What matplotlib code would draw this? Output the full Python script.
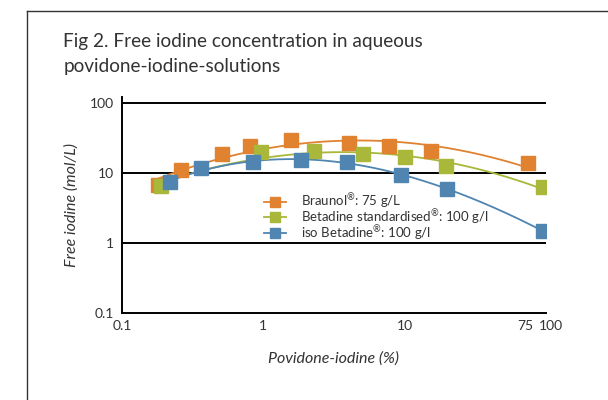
import numpy as np
import matplotlib
matplotlib.use('Agg')
import matplotlib.pyplot as plt
import matplotlib.transforms as mtransforms
from matplotlib.lines import Line2D

plt.rcParams['font.family'] = ['Lato', 'DejaVu Sans']
plt.rcParams['mathtext.fontset'] = 'custom'
plt.rcParams['mathtext.rm'] = 'Lato'

# Braunol: 75 g/L
braunol_x = [0.18, 0.26, 0.51, 0.80, 1.57, 4.06, 7.8, 15.4, 75]
braunol_y = [6.7, 11.0, 18.5, 24.3, 29.6, 27.1, 24.3, 20.6, 13.7]

# Betadine standardised: 100 g/l
betadine_x = [0.19, 0.96, 2.3, 5.1, 10, 19.5, 96]
betadine_y = [6.6, 19.7, 20.6, 18.5, 16.9, 12.6, 6.4]

# iso Betadine: 100 g/l
iso_x = [0.22, 0.36, 0.84, 1.85, 3.9, 9.4, 20, 96]
iso_y = [7.4, 11.7, 14.2, 15.3, 14.2, 9.5, 6.0, 1.47]

labels = ['Braunol$^{\u00ae}$: 75 g/L', 'Betadine standardised$^{\u00ae}$: 100 g/l',
          'iso Betadine$^{\u00ae}$: 100 g/l']
colors = ['#e0822f', '#a9b73a', '#4f85b0']
fit_degree = [2, 2, 3]

xticks = [0.1, 1, 10, 75, 100]
xtick_labels = ['0.1', '1', '10', '75', '100']
yticks = [0.1, 1, 10, 100]
ytick_labels = ['0.1', '1', '10', '100']

fig = plt.figure(figsize=(6.08, 4.0), dpi=100)
ax = fig.add_axes([0.2007, 0.2175, 0.697, 0.54])

handles = []
data = [(braunol_x, braunol_y), (betadine_x, betadine_y), (iso_x, iso_y)]
for (xs, ys), col, lab, deg in zip(data, colors, labels, fit_degree):
    lx = np.log10(xs)
    ly = np.log10(ys)
    coef = np.polyfit(lx, ly, deg)
    xx = np.linspace(lx.min(), lx.max(), 200)
    ax.plot(10 ** xx, 10 ** np.polyval(coef, xx), color=col, lw=1.3, zorder=3)
    ax.plot(xs, ys, 's', color=col, ms=10.5, zorder=4)
    handles.append(Line2D([0], [0], color=col, lw=1.3, marker='s', ms=7, label=lab))

ax.set_xscale('log')
ax.set_yscale('log')
ax.set_xlim(0.1, 100)
ax.set_ylim(0.1, 122)
ax.set_xticks(xticks)
ax.set_xticklabels(xtick_labels)
ax.set_yticks(yticks)
ax.set_yticklabels(ytick_labels)
ax.minorticks_off()
ax.tick_params(length=0, labelsize=10, colors='#333333')
ax.tick_params(axis='x', pad=5)
ax.tick_params(axis='y', pad=6)
# nudge the crowded 75 / 100 labels apart like the original
xl = ax.get_xticklabels()
xl[3].set_transform(xl[3].get_transform() + mtransforms.ScaledTranslation(-3 / 100, 0, fig.dpi_scale_trans))
xl[4].set_transform(xl[4].get_transform() + mtransforms.ScaledTranslation(5 / 100, 0, fig.dpi_scale_trans))

for yv in [1, 10, 100]:
    ax.axhline(yv, color='black', lw=1.4, zorder=1)
for s in ['top', 'right']:
    ax.spines[s].set_visible(False)
for s in ['left', 'bottom']:
    ax.spines[s].set_linewidth(1.4)

ax.set_xlabel('Povidone-iodine (%)', style='italic', fontsize=11.5, color='#333333', labelpad=14)
ax.set_ylabel('Free iodine (mol/L)', style='italic', fontsize=11.5, color='#333333', labelpad=8)

ax.legend(handles=handles, loc='center left', bbox_to_anchor=(0.335, 0.444), frameon=False,
          fontsize=9.5, handlelength=1.7, labelspacing=-0.3, handletextpad=1.1,
          labelcolor='#333333', borderpad=0, borderaxespad=0)

fig.text(0.104, 0.8825, 'Fig 2. Free iodine concentration in aqueous', fontsize=13.7, color='#333333',
         va='baseline')
fig.text(0.104, 0.82, 'povidone-iodine-solutions', fontsize=13.7, color='#333333', va='baseline')

fig.add_artist(Line2D([27 / 608, 27 / 608], [0, 1 - 11 / 400], color='#333333', lw=1.0))
fig.add_artist(Line2D([27 / 608, 1], [1 - 11 / 400, 1 - 11 / 400], color='#333333', lw=1.0))

fig.savefig('out.png', dpi=100)
